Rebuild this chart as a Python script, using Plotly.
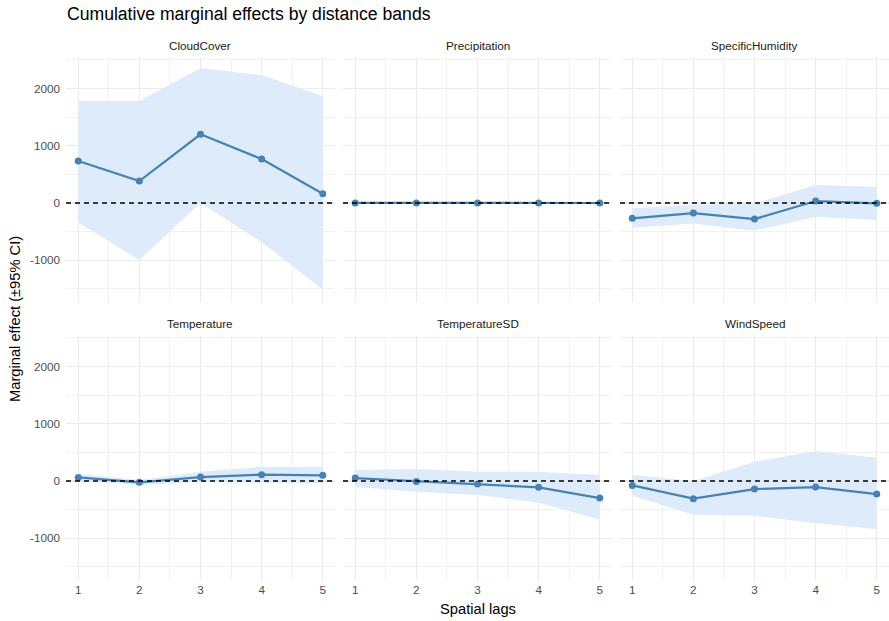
import plotly.graph_objects as go

# ---------------- data ----------------
lags = [1, 2, 3, 4, 5]
variables = ["CloudCover", "Precipitation", "SpecificHumidity",
             "Temperature", "TemperatureSD", "WindSpeed"]

cloud_est = [733, 384, 1199, 768, 163]
cloud_lo = [-340, -995, 5, -686, -1507]
cloud_hi = [1786, 1780, 2356, 2234, 1862]

precip_est = [2, 1, 2, 1, 1]
precip_lo = [-8, -9, -8, -9, -10]
precip_hi = [12, 11, 12, 11, 12]

humid_est = [-267, -175, -279, 35, -5]
humid_lo = [-430, -355, -483, -238, -297]
humid_hi = [-93, -30, -6, 314, 285]

temp_est = [64, -23, 70, 111, 99]
temp_lo = [17, -70, -12, -30, -40]
temp_hi = [122, 17, 163, 250, 250]

tempsd_est = [52, -6, -52, -110, -297]
tempsd_lo = [-99, -186, -244, -378, -669]
tempsd_hi = [192, 209, 163, 163, 105]

wind_est = [-76, -308, -140, -105, -227]
wind_lo = [-256, -587, -605, -738, -843]
wind_hi = [105, 0, 337, 524, 407]

series = [
    (cloud_est, cloud_lo, cloud_hi),
    (precip_est, precip_lo, precip_hi),
    (humid_est, humid_lo, humid_hi),
    (temp_est, temp_lo, temp_hi),
    (tempsd_est, tempsd_lo, tempsd_hi),
    (wind_est, wind_lo, wind_hi),
]

y_ticks = [-1000, 0, 1000, 2000]
x_ticks = lags

# ---------------- layout geometry ----------------
W, H = 889, 621


def px(x):
    return x / W


def py(y):
    return 1 - y / H


col_px = [(66, 335), (343, 612), (620, 889)]
row_px = [(57.5, 301.6), (335.5, 579.6)]
x_dom = [[px(a), min(1.0, px(b))] for a, b in col_px]
y_dom = [[py(b), py(a)] for a, b in row_px]

FONT = "Liberation Sans, Arial, Helvetica, sans-serif"
LINE = "#4682B4"
BAND = "#DDEBFA"
GRID = "#EBEBEB"
TICKC = "#4D4D4D"

fig = go.Figure()
layout = dict(
    template="none",
    width=W, height=H,
    margin=dict(l=0, r=0, t=0, b=0, autoexpand=False),
    paper_bgcolor="white", plot_bgcolor="white",
    showlegend=False,
    font=dict(family=FONT, color=TICKC, size=11.7),
    annotations=[], shapes=[],
)

for i, (name, (est, lo, hi)) in enumerate(zip(variables, series)):
    r, c = divmod(i, 3)
    k = i + 1
    xa = "x" if k == 1 else f"x{k}"
    ya = "y" if k == 1 else f"y{k}"
    # band
    fig.add_trace(go.Scatter(
        x=lags + lags[::-1], y=hi + lo[::-1], fill="toself",
        fillcolor=BAND, line=dict(width=0), mode="lines",
        hoverinfo="skip", xaxis=xa, yaxis=ya))
    # line
    fig.add_trace(go.Scatter(
        x=lags, y=est, mode="lines",
        line=dict(color=LINE, width=2.2), xaxis=xa, yaxis=ya))
    # points
    fig.add_trace(go.Scatter(
        x=lags, y=est, mode="markers",
        marker=dict(color=LINE, size=7), xaxis=xa, yaxis=ya))

    xkey = "xaxis" if k == 1 else f"xaxis{k}"
    ykey = "yaxis" if k == 1 else f"yaxis{k}"
    layout[xkey] = dict(
        domain=x_dom[c], anchor=ya, range=[0.8, 5.2], automargin=False,
        tickmode="array", tickvals=x_ticks, ticktext=[str(v) for v in x_ticks],
        showticklabels=(r == 1), showgrid=True, gridcolor=GRID, gridwidth=1.3,
        minor=dict(showgrid=True, gridcolor=GRID, gridwidth=0.7, dtick=0.5, tick0=0.5),
        zeroline=False, showline=False, ticks="",
        tickfont=dict(size=11.7, color=TICKC, family=FONT),
        ticklabelstandoff=2,
    )
    layout[ykey] = dict(
        domain=y_dom[r], anchor=xa, range=[-1720, 2540], automargin=False,
        tickmode="array", tickvals=y_ticks, ticktext=[str(v) for v in y_ticks],
        showticklabels=(c == 0), showgrid=True, gridcolor=GRID, gridwidth=1.3,
        minor=dict(showgrid=True, gridcolor=GRID, gridwidth=0.7, dtick=500, tick0=500),
        zeroline=False, showline=False, ticks="",
        tickfont=dict(size=11.7, color=TICKC, family=FONT),
        ticklabelstandoff=5,
    )
    # zero reference line
    layout["shapes"].append(dict(
        type="line", xref=f"{xa} domain", yref=ya, x0=0, x1=1, y0=0, y1=0,
        line=dict(color="black", width=1.4, dash="5px,4px"), layer="above"))
    # strip title
    layout["annotations"].append(dict(
        text=name, xref="paper", yref="paper",
        x=(x_dom[c][0] + x_dom[c][1]) / 2, y=y_dom[r][1] + 12 / H,
        xanchor="center", yanchor="middle", showarrow=False,
        font=dict(size=11.7, color="#1A1A1A", family=FONT)))

layout["annotations"] += [
    dict(text="Cumulative marginal effects by distance bands",
         xref="paper", yref="paper", x=px(65), y=py(14),
         xanchor="left", yanchor="middle", showarrow=False,
         font=dict(size=17.6, color="black", family=FONT)),
    dict(text="Spatial lags", xref="paper", yref="paper",
         x=px((66 + 889) / 2), y=py(609),
         xanchor="center", yanchor="middle", showarrow=False,
         font=dict(size=14.7, color="black", family=FONT)),
    dict(text="Marginal effect (±95% CI)", xref="paper", yref="paper",
         x=px(15), y=py(319), textangle=-90,
         xanchor="center", yanchor="middle", showarrow=False,
         font=dict(size=14.7, color="black", family=FONT)),
]

fig.update_layout(**layout)
fig.write_html(
    "out.html",
    config={"displayModeBar": False, "staticPlot": True},
    post_script="document.body.style.margin='0';document.body.style.overflow='hidden';",
)
